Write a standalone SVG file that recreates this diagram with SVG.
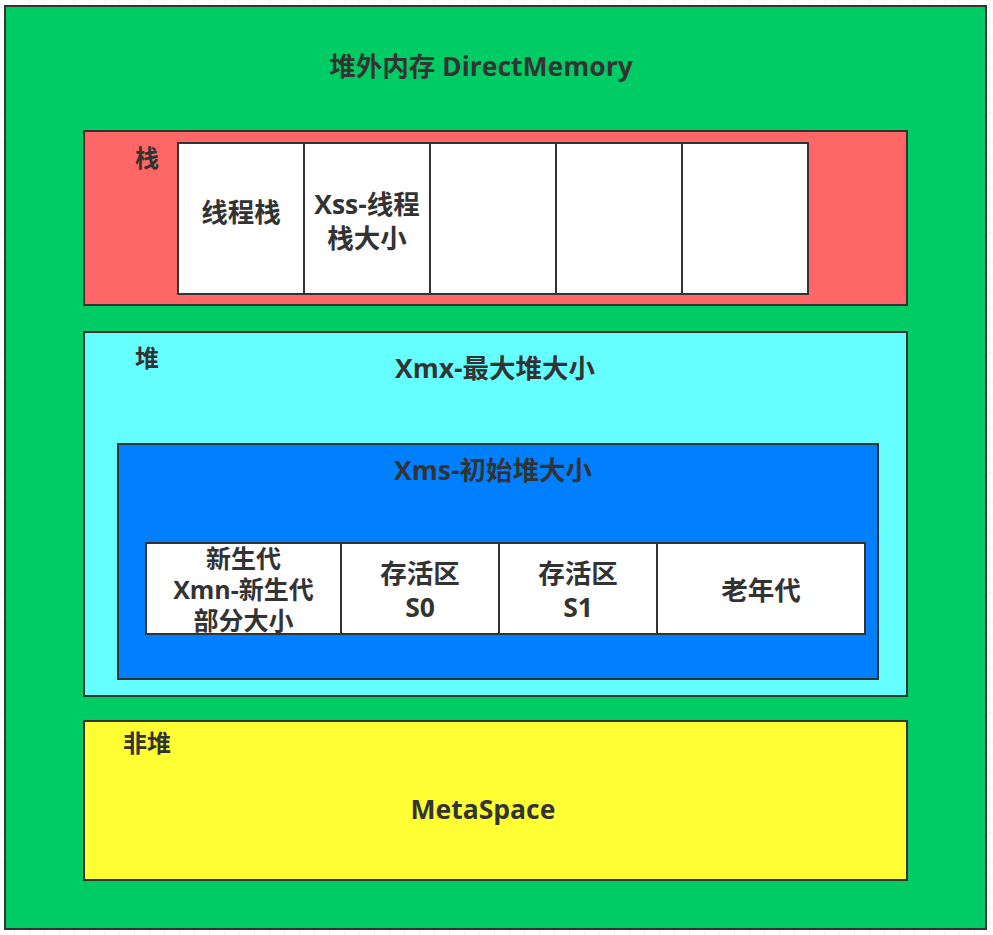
<svg xmlns="http://www.w3.org/2000/svg" width="993" height="935" viewBox="0 0 993 935">
  <defs>
    <pattern id="grid" x="0" y="8.3" width="15" height="15" patternUnits="userSpaceOnUse">
      <path d="M15 0 V15 M0 15 H15" fill="none" stroke="#e4e4e4" stroke-width="1"/>
    </pattern>
  </defs>
  <style>
    .box { stroke: #333333; stroke-width: 2; }
    .cell { fill: #ffffff; stroke: #333333; stroke-width: 2; }
    text { font-family: "Open Sans", "Noto Sans CJK SC", sans-serif; font-weight: bold; fill: #333333; text-anchor: middle; dominant-baseline: central; }
    .big { font-size: 26.5px; }
    .mid { font-size: 25px; }
    .lbl { font-size: 24px; }
  </style>
  <rect x="0" y="0" width="993" height="935" fill="#ffffff"/>
  <rect x="0" y="0" width="993" height="935" fill="url(#grid)"/>

  <g id="direct-memory">
    <rect class="box" x="5" y="6" width="981" height="923" fill="#00CC66"/>
    <text class="big" x="481" y="66">堆外内存 DirectMemory</text>
  </g>

  <g id="stack">
    <rect class="box" x="84" y="131" width="823" height="174" fill="#FF6666"/>
    <text class="lbl" x="147" y="157">栈</text>
  </g>
  <g id="stack-cell-1">
    <rect class="cell" x="178" y="143" width="126" height="151"/>
    <text class="big" x="241" y="212">线程栈</text>
  </g>
  <g id="stack-cell-2">
    <rect class="cell" x="304" y="143" width="126" height="151"/>
    <text class="big" x="367" y="204">Xss-线程</text>
    <text class="big" x="367" y="238">栈大小</text>
  </g>
  <g id="stack-cell-3">
    <rect class="cell" x="430" y="143" width="126" height="151"/>
  </g>
  <g id="stack-cell-4">
    <rect class="cell" x="556" y="143" width="126" height="151"/>
  </g>
  <g id="stack-cell-5">
    <rect class="cell" x="682" y="143" width="126" height="151"/>
  </g>

  <g id="heap">
    <rect class="box" x="84" y="332" width="823" height="364" fill="#66FFFF"/>
    <text class="lbl" x="147" y="357">堆</text>
    <text class="big" x="495" y="368">Xmx-最大堆大小</text>
  </g>
  <g id="initial-heap">
    <rect class="box" x="118" y="444" width="760" height="235" fill="#007FFF"/>
    <text class="big" x="493" y="470">Xms-初始堆大小</text>
  </g>
  <g id="young-gen">
    <rect class="cell" x="146" y="543" width="195" height="91"/>
    <text class="mid" x="243.5" y="558">新生代</text>
    <text class="mid" x="243.5" y="589">Xmn-新生代</text>
    <text class="mid" x="243.5" y="620">部分大小</text>
  </g>
  <g id="survivor-s0">
    <rect class="cell" x="341" y="543" width="158" height="91"/>
    <text class="big" x="420" y="573">存活区</text>
    <text class="big" x="420" y="607">S0</text>
  </g>
  <g id="survivor-s1">
    <rect class="cell" x="499" y="543" width="158" height="91"/>
    <text class="big" x="578" y="573">存活区</text>
    <text class="big" x="578" y="607">S1</text>
  </g>
  <g id="old-gen">
    <rect class="cell" x="657" y="543" width="208" height="91"/>
    <text class="big" x="761" y="590">老年代</text>
  </g>

  <g id="non-heap">
    <rect class="box" x="84" y="721" width="823" height="159" fill="#FFFF33"/>
    <text class="lbl" x="147" y="742">非堆</text>
    <text class="big" x="483" y="809">MetaSpace</text>
  </g>

  <g id="connectors"></g>
</svg>
